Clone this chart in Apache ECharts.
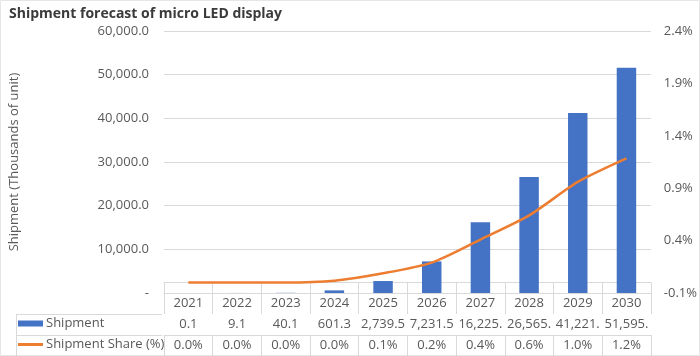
<!DOCTYPE html>
<html>
<head>
<meta charset="utf-8">
<script src="https://cdn.jsdelivr.net/npm/echarts@6/dist/echarts.min.js"></script>
<style>
html,body{margin:0;padding:0;background:#fff;}
#chart{width:700px;height:356px;}
</style>
</head>
<body>
<div id="chart"></div>
<script>
// ---- data ----
const years = ['2021','2022','2023','2024','2025','2026','2027','2028','2029','2030'];
const shipment = [0.1, 9.1, 40.1, 601.3, 2739.5, 7231.5, 16225.1, 26565.0, 41221.0, 51595.0];
const shareLine = [0.0, 0.0, 0.0, 0.017, 0.088, 0.19, 0.41, 0.64, 0.96, 1.185];
// share as printed in the data table
const shareTable = ['0.0%','0.0%','0.0%','0.0%','0.1%','0.2%','0.4%','0.6%','1.0%','1.2%'];
const leftTicks = ['-', '10,000.0', '20,000.0', '30,000.0', '40,000.0', '50,000.0', '60,000.0'];
const rightTicks = ['-0.1%', '0.4%', '0.9%', '1.4%', '1.9%', '2.4%'];

const FONT = '"Open Sans", sans-serif';
const GRAY = '#595959';
const BORDER = '#d9d9d9';
const BLUE = '#4472C4';
const ORANGE = '#ED7D31';

function fmtNum(v){
  return v.toLocaleString('en-US',{minimumFractionDigits:1, maximumFractionDigits:1});
}

const chart = echarts.init(document.getElementById('chart'), null, {renderer:'canvas'});

const G = {left:162, right:46, top:31, bottom:63};
const tableLeft = 16;
const rowH = 21;
const axisY = 356 - G.bottom;

const tableAxis = (offset, labels) => ({
  type:'category', data: labels, gridIndex:0, position:'bottom', offset: offset,
  boundaryGap:true,
  axisLine:{show:true, lineStyle:{color:BORDER, width:1}},
  axisTick:{show:true, length:rowH, lineStyle:{color:BORDER}},
  axisLabel:{show:true, interval:0, margin:4, color:GRAY, fontSize:13, fontFamily:FONT,
    width:48, overflow:'truncate', ellipsis:''},
  splitLine:{show:false}
});

const legendBase = {
  left:tableLeft+2, orient:'horizontal', itemWidth:25, itemHeight:6, itemGap:4, padding:0,
  textStyle:{fontFamily:FONT, fontSize:13, color:GRAY, padding:[0,0,0,-2]}
};

const option = {
  animation:false,
  backgroundColor:'#fff',
  title:{
    text:'Shipment forecast of micro LED display',
    left:4, top:2,
    textStyle:{fontFamily:FONT, fontWeight:'bold', fontSize:14, color:'#3a3a3a'}
  },
  grid:{left:G.left, right:G.right, top:G.top, bottom:G.bottom, containLabel:false},
  legend:[
    Object.assign({}, legendBase, {top:axisY+rowH+3,
      data:[{name:'Shipment', icon:'rect', itemStyle:{color:BLUE}}]}),
    Object.assign({}, legendBase, {top:axisY+2*rowH+3,
      data:[{name:'Shipment Share (%)', icon:'path://M0,0 L25,0 L25,3 L0,3 Z', itemStyle:{color:ORANGE}}]})
  ],
  xAxis:[
    tableAxis(0, years),
    tableAxis(rowH, shipment.map(fmtNum)),
    tableAxis(2*rowH, shareTable)
  ],
  yAxis:[
    {type:'value', min:0, max:60000, interval:10000, position:'left',
     name:'Shipment (Thousands of unit)', nameLocation:'middle', nameGap:143,
     nameTextStyle:{fontFamily:FONT, fontSize:13, color:GRAY},
     axisLine:{show:false}, axisTick:{show:false},
     axisLabel:{margin:15, color:GRAY, fontSize:13, fontFamily:FONT,
       formatter:(v,i)=>leftTicks[i]},
     splitLine:{show:true, lineStyle:{color:BORDER, width:1}}},
    {type:'value', min:-0.1, max:2.4, interval:0.5, position:'right',
     axisLine:{show:false}, axisTick:{show:false},
     axisLabel:{margin:13, color:GRAY, fontSize:13, fontFamily:FONT,
       formatter:(v,i)=>rightTicks[i]},
     splitLine:{show:false}}
  ],
  series:[
    {name:'Shipment', type:'bar', xAxisIndex:0, yAxisIndex:0, data:shipment,
     barWidth:'40%', itemStyle:{color:BLUE}},
    {name:'Shipment Share (%)', type:'line', xAxisIndex:0, yAxisIndex:1, data:shareLine,
     symbol:'none', smooth:0.25, lineStyle:{color:ORANGE, width:2.5}, itemStyle:{color:ORANGE}}
  ],
  graphic:[
    {type:'line', shape:{x1:tableLeft, y1:axisY+rowH+0.5, x2:G.left, y2:axisY+rowH+0.5}, style:{stroke:BORDER, lineWidth:1}},
    {type:'line', shape:{x1:tableLeft, y1:axisY+2*rowH+0.5, x2:G.left, y2:axisY+2*rowH+0.5}, style:{stroke:BORDER, lineWidth:1}},
    {type:'line', shape:{x1:tableLeft+0.5, y1:axisY+rowH, x2:tableLeft+0.5, y2:356}, style:{stroke:BORDER, lineWidth:1}},
    {type:'rect', shape:{x:0.5, y:0.5, width:699, height:355}, style:{fill:null, stroke:'#e6e6e6', lineWidth:1}, z:-1}
  ]
};
chart.setOption(option);
</script>
</body>
</html>
